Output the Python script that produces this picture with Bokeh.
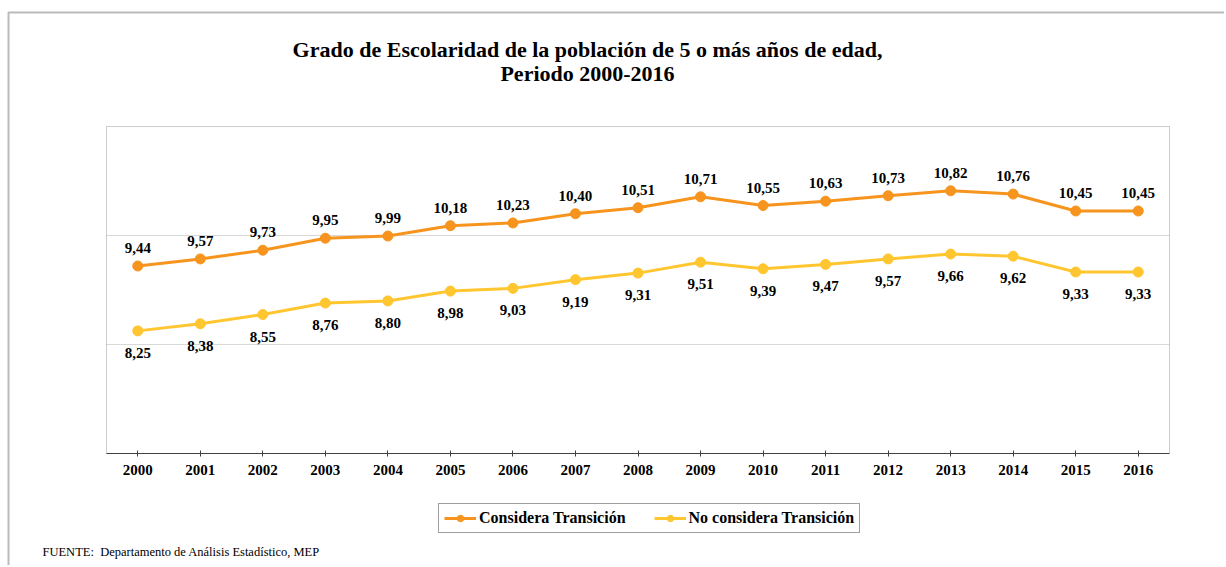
from bokeh.plotting import figure
from bokeh.models import (ColumnDataSource, Range1d, Label, Legend, LegendItem,
                          BoxAnnotation, FixedTicker, LinearAxis)
from bokeh.core.properties import value
from bokeh.embed import file_html
from bokeh.resources import INLINE

years = [str(y) for y in range(2000, 2017)]
considera = [9.44, 9.57, 9.73, 9.95, 9.99, 10.18, 10.23, 10.40, 10.51, 10.71,
             10.55, 10.63, 10.73, 10.82, 10.76, 10.45, 10.45]
no_considera = [8.25, 8.38, 8.55, 8.76, 8.80, 8.98, 9.03, 9.19, 9.31, 9.51,
                9.39, 9.47, 9.57, 9.66, 9.62, 9.33, 9.33]
series_names = ["Considera Transición", "No considera Transición"]
title_lines = ["Grado de Escolaridad de la población de 5 o más años de edad,",
               "Periodo 2000-2016"]
source_note = "FUENTE:\u00a0 Departamento de Análisis Estadístico, MEP"
y_min, y_max = 6, 12
grid_values = [8, 10]

ORANGE = "#F7941D"
YELLOW = "#FFC62F"
SERIF = "Liberation Serif"

# canvas geometry (pixels)
W, H = 1224, 565
PL, PR, PT, PB = 106, 1169, 126, 453     # plot area edges
n = len(years)
xs = list(range(n))
ppx = (PR - PL) / n
ppy = (PB - PT) / (y_max - y_min)


def px2x(px):
    return (px - PL) / ppx - 0.5


def px2y(py):
    return y_max - (py - PT) / ppy


p = figure(width=W, height=H,
           x_range=Range1d(px2x(0), px2x(W)), y_range=Range1d(px2y(H), px2y(0)),
           output_backend="svg", toolbar_location=None, min_border=0,
           x_axis_location=None, y_axis_location=None)
p.background_fill_color = "white"
p.border_fill_color = "white"
p.outline_line_color = None
p.xgrid.visible = False
p.ygrid.visible = False

# plot area frame
p.add_layout(BoxAnnotation(left=-0.5, right=n - 0.5, bottom=y_min, top=y_max,
                           fill_alpha=0, line_color="#595959", line_width=1,
                           level="underlay"))
# horizontal gridlines
p.segment(x0=[-0.5] * len(grid_values), x1=[n - 0.5] * len(grid_values),
          y0=grid_values, y1=grid_values, line_color="#d9d9d9", line_width=1,
          level="underlay")

# x axis
ax = LinearAxis(fixed_location=y_min, bounds=(-0.5, n - 0.5),
                ticker=FixedTicker(ticks=xs),
                major_label_overrides={i: y for i, y in zip(xs, years)})
ax.axis_line_color = "#404040"
ax.major_tick_line_color = "#404040"
ax.major_tick_in = 3
ax.major_tick_out = 3
ax.minor_tick_line_color = None
ax.major_label_text_font = SERIF
ax.major_label_text_font_style = "bold"
ax.major_label_text_font_size = "15px"
ax.major_label_text_color = "black"
ax.major_label_standoff = 8
p.add_layout(ax, "below")


def fmt(v):
    return f"{v:.2f}".replace(".", ",")


src = ColumnDataSource(dict(
    x=xs, a=considera, b=no_considera,
    la=[fmt(v) for v in considera], lb=[fmt(v) for v in no_considera]))

la = p.line("x", "a", source=src, line_color=ORANGE, line_width=3)
ca = p.scatter("x", "a", source=src, size=10, fill_color=ORANGE, line_color=ORANGE)
lb = p.line("x", "b", source=src, line_color=YELLOW, line_width=3)
cb = p.scatter("x", "b", source=src, size=10, fill_color=YELLOW, line_color=YELLOW)

p.text("x", "a", text="la", source=src, text_font=value(SERIF),
       text_font_style="bold", text_font_size="15px", text_color="black",
       text_align="center", text_baseline="middle", y_offset=-18)
p.text("x", "b", text="lb", source=src, text_font=value(SERIF),
       text_font_style="bold", text_font_size="15px", text_color="black",
       text_align="center", text_baseline="middle", y_offset=22)

for txt, py in zip(title_lines, [49, 73]):
    p.add_layout(Label(x=px2x(587), y=px2y(py), text=txt, text_font=SERIF,
                       text_font_style="bold", text_font_size="22px",
                       text_color="black", text_align="center",
                       text_baseline="middle"))

p.add_layout(Label(x=px2x(42), y=px2y(551), text=source_note, text_font=SERIF,
                   text_font_size="12.5px", text_color="black", text_align="left",
                   text_baseline="middle"))

# outer chart border (top and left edges visible)
p.add_layout(BoxAnnotation(left=px2x(8), right=px2x(W + 50), top=px2y(12),
                           bottom=px2y(H + 50), fill_alpha=0,
                           line_color="#1a1a1a", line_width=2))

legend = Legend(items=[LegendItem(label=series_names[0], renderers=[la, ca]),
                       LegendItem(label=series_names[1], renderers=[lb, cb])],
                orientation="horizontal", location=(438, H - 533),
                label_text_font=SERIF, label_text_font_style="bold",
                label_text_font_size="16px", label_text_color="black",
                glyph_width=32, glyph_height=16, label_standoff=3, spacing=28,
                padding=5, margin=0, border_line_color="#404040",
                border_line_width=1, background_fill_color="white",
                label_height=17)
p.add_layout(legend, "center")

open("out.html", "w").write(file_html(p, INLINE))
